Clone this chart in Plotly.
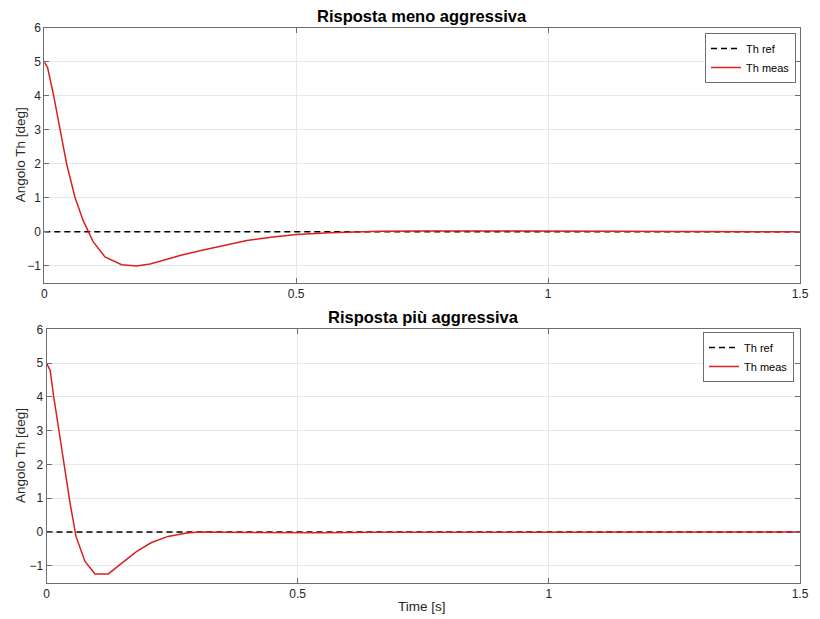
import plotly.graph_objects as go

# Time samples and measured angle for the softer controller
t_soft = [0.0, 0.0066, 0.018, 0.0345, 0.0444, 0.061, 0.0774, 0.0873, 0.0972, 0.1204,
          0.1536, 0.183, 0.21, 0.256, 0.269, 0.309, 0.335, 0.402, 0.45, 0.5, 0.567,
          0.62, 0.666, 0.75, 0.85, 0.95, 1.05, 1.15, 1.25, 1.35, 1.5]
th_soft = [5.0, 4.83, 4.05, 2.75, 1.99, 1.01, 0.32, 0.01, -0.30, -0.74,
           -0.97, -1.01, -0.95, -0.76, -0.70, -0.56, -0.47, -0.26, -0.16, -0.08, -0.03,
           0.0, 0.015, 0.025, 0.028, 0.025, 0.02, 0.015, 0.01, 0.005, 0.0]

# Time samples and measured angle for the more aggressive controller
t_fast = [0.0, 0.0073, 0.014, 0.0305, 0.047, 0.0587, 0.0766, 0.0965, 0.123, 0.150,
          0.179, 0.209, 0.242, 0.279, 0.306, 0.35, 0.45, 0.55, 0.65, 0.8, 1.0, 1.2, 1.5]
th_fast = [5.0, 4.78, 4.04, 2.42, 0.85, -0.13, -0.87, -1.24, -1.24, -0.92,
           -0.58, -0.31, -0.13, -0.03, 0.0, -0.01, -0.02, -0.02, -0.01, -0.005, 0.0, 0.0, 0.0]

# Reference angle (constant set-point)
t_ref = [0.0, 1.5]
th_ref = [0.0, 0.0]

titles = ["Risposta meno aggressiva", "Risposta più aggressiva"]
y_label = "Angolo Th [deg]"
x_label = "Time [s]"
x_ticks = [0, 0.5, 1, 1.5]
x_tick_text = ["0", "0.5", "1", "1.5"]
y_ticks = [-1, 0, 1, 2, 3, 4, 5, 6]

W, H = 820, 619
FONT = "Liberation Sans, Arial, Helvetica, sans-serif"
RED = "#dc1e1e"

# Pixel layout of the two panels: (left, right, top, bottom)
panels = [(44.3, 800, 28, 282.7), (46.5, 800, 329.3, 582.7)]

fig = go.Figure()

series = [(t_soft, th_soft), (t_fast, th_fast)]
for i, (tt, yy) in enumerate(series):
    xa = "x" if i == 0 else "x2"
    ya = "y" if i == 0 else "y2"
    lg = "legend" if i == 0 else "legend2"
    fig.add_trace(go.Scatter(x=t_ref, y=th_ref, mode="lines", name="Th ref",
                             line=dict(color="black", width=1.4, dash="6px,4px"),
                             xaxis=xa, yaxis=ya, legend=lg))
    fig.add_trace(go.Scatter(x=tt, y=yy, mode="lines", name="Th meas",
                             line=dict(color=RED, width=1.5),
                             xaxis=xa, yaxis=ya, legend=lg))

axis_common = dict(
    showline=True, linecolor="#6e6e6e", linewidth=1, mirror="ticks",
    ticks="inside", ticklen=5, tickcolor="#6e6e6e",
    showgrid=True, gridcolor="#e8e8e8", gridwidth=1,
    zeroline=False, automargin=False,
    tickfont=dict(family=FONT, size=12, color="#262626"),
)

layout = dict(
    width=W, height=H,
    margin=dict(l=0, r=0, t=0, b=0),
    paper_bgcolor="white", plot_bgcolor="white",
    font=dict(family=FONT, color="#262626"),
    annotations=[],
)

for i, (l, r, t, b) in enumerate(panels):
    sx = "" if i == 0 else "2"
    layout["xaxis" + sx] = dict(axis_common, domain=[l / W, r / W], range=[0, 1.5],
                                tickvals=x_ticks, ticktext=x_tick_text,
                                anchor="y" + sx)
    layout["yaxis" + sx] = dict(axis_common, domain=[1 - b / H, 1 - t / H], range=[-1.5, 6],
                                tickvals=y_ticks, anchor="x" + sx)
    # panel title
    layout["annotations"].append(dict(
        text="<b>" + titles[i] + "</b>", x=(l + r) / 2 / W, y=1 - (t - 12) / H,
        xref="paper", yref="paper", xanchor="center", yanchor="middle",
        showarrow=False, font=dict(family=FONT, size=16.5, color="black")))
    # y-axis label
    layout["annotations"].append(dict(
        text=y_label, x=20 / W, y=1 - ((t + b) / 2) / H, textangle=-90,
        xref="paper", yref="paper", xanchor="center", yanchor="middle",
        showarrow=False, font=dict(family=FONT, size=13.5, color="#262626")))

layout["annotations"].append(dict(
    text=x_label, x=422 / W, y=1 - 606 / H, xref="paper", yref="paper",
    xanchor="center", yanchor="middle", showarrow=False,
    font=dict(family=FONT, size=13.5, color="#262626")))

legend_common = dict(
    bgcolor="white", bordercolor="#6e6e6e", borderwidth=1,
    font=dict(family=FONT, size=11, color="black"),
    xanchor="right", yanchor="top", tracegroupgap=0, itemwidth=30,
)
layout["legend"] = dict(legend_common, x=796 / W, y=1 - 33 / H)
layout["legend2"] = dict(legend_common, x=794 / W, y=1 - 332 / H)
layout["showlegend"] = True

fig.update_layout(**layout)
fig.write_html("out.html")
